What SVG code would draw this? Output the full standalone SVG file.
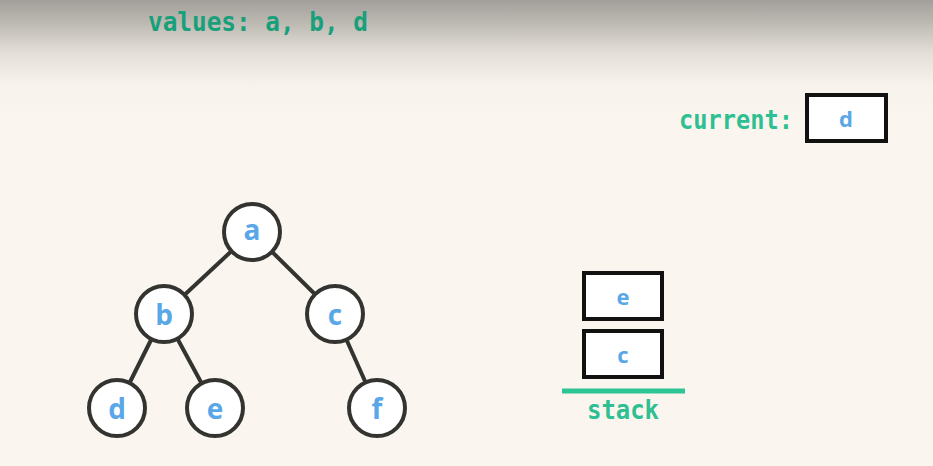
<svg xmlns="http://www.w3.org/2000/svg" width="933" height="466" viewBox="0 0 933 466">
<defs>
<linearGradient id="bg" x1="0" y1="0" x2="0" y2="1">
<stop offset="0" stop-color="#a29f9a"/>
<stop offset="0.05" stop-color="#bdb9b3"/>
<stop offset="0.11" stop-color="#e2ddd7"/>
<stop offset="0.18" stop-color="#f8f2ec"/>
<stop offset="0.26" stop-color="#fbf5ef"/>
<stop offset="1" stop-color="#fbf5ef"/>
</linearGradient>
<style>
.node circle{fill:#ffffff;stroke:#333330;stroke-width:4}
.lbl{font-family:"Open Sans","DejaVu Sans",sans-serif;font-weight:bold;font-size:28px;fill:#5aa7e8;text-anchor:middle}
.sm{font-size:22px}
.box{fill:#ffffff;stroke:#111111;stroke-width:4}
.mono{font-family:"DejaVu Sans Mono","Liberation Mono",monospace;font-weight:bold;font-size:26px}
.edge{stroke:#333330;stroke-width:4}
</style>
</defs>
<rect x="0" y="0" width="933" height="466" fill="url(#bg)"/>
<text class="mono" x="148" y="31" fill="#17a07a" textLength="220" lengthAdjust="spacingAndGlyphs">values: a, b, d</text>
<text class="mono" x="679" y="129" fill="#2ebf92" textLength="114" lengthAdjust="spacingAndGlyphs">current:</text>
<g id="current">
<rect class="box" x="807" y="95" width="79" height="46"/>
<text class="lbl sm" x="846" y="127">d</text>
</g>
<g id="connectors">
<line class="edge" x1="252" y1="232" x2="164" y2="314"/>
<line class="edge" x1="252" y1="232" x2="335" y2="314"/>
<line class="edge" x1="164" y1="314" x2="117" y2="408"/>
<line class="edge" x1="164" y1="314" x2="215" y2="408"/>
<line class="edge" x1="335" y1="314" x2="377" y2="408"/>
</g>
<g id="node-a" class="node"><circle cx="252" cy="232" r="28"/><text class="lbl" x="252" y="240">a</text></g>
<g id="node-b" class="node"><circle cx="164" cy="314" r="28"/><text class="lbl" x="164" y="325">b</text></g>
<g id="node-c" class="node"><circle cx="335" cy="314" r="28"/><text class="lbl" x="335" y="325">c</text></g>
<g id="node-d" class="node"><circle cx="117" cy="408" r="28"/><text class="lbl" x="117" y="419">d</text></g>
<g id="node-e" class="node"><circle cx="215" cy="408" r="28"/><text class="lbl" x="215" y="419">e</text></g>
<g id="node-f" class="node"><circle cx="377" cy="408" r="28"/><text class="lbl" x="377" y="419">f</text></g>
<g id="stack-e"><rect class="box" x="584" y="273" width="78" height="46"/><text class="lbl sm" x="623" y="305">e</text></g>
<g id="stack-c"><rect class="box" x="584" y="331" width="78" height="46"/><text class="lbl sm" x="623" y="363">c</text></g>
<g id="stack">
<line x1="562" y1="391" x2="685" y2="391" stroke="#2ec595" stroke-width="5"/>
<text class="mono" x="587" y="419" fill="#2ebf92" textLength="72" lengthAdjust="spacingAndGlyphs">stack</text>
</g>
</svg>
